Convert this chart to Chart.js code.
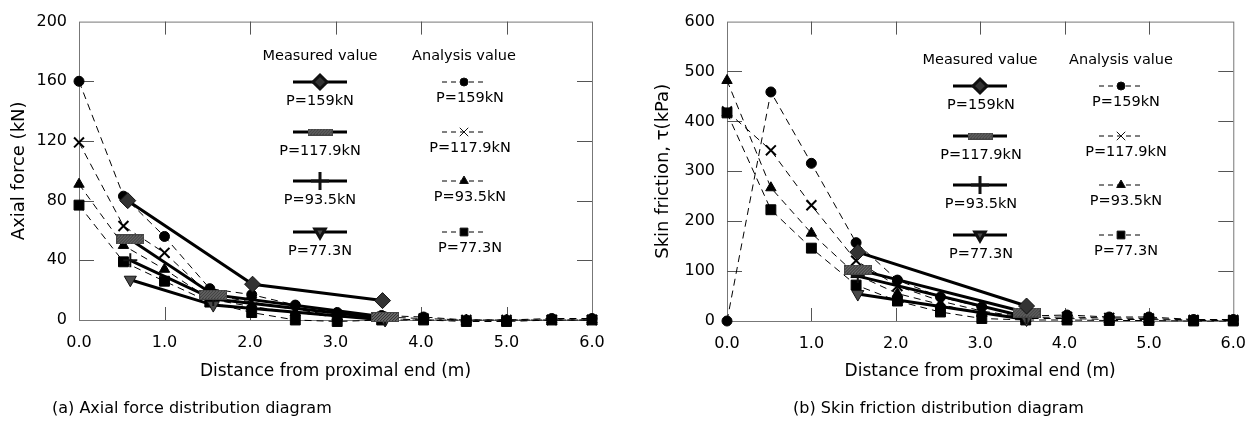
<!DOCTYPE html>
<html>
<head>
<meta charset="utf-8">
<script src="https://cdn.jsdelivr.net/npm/chart.js@4.4.1/dist/chart.umd.min.js"></script>
<style>
  body { margin: 0; background: #fff; }
  #wrap { position: relative; width: 1259px; height: 427px; overflow: hidden; }
  #c1 { position: absolute; left: 0; top: 0; }
  #c2 { position: absolute; left: 620px; top: 0; }
  .cap { position: absolute; top: 398px; font: 16px 'DejaVu Sans', sans-serif; color: #000; white-space: nowrap; }
</style>
</head>
<body>
<div id="wrap">
  <canvas id="c1" width="620" height="427"></canvas>
  <canvas id="c2" width="639" height="427"></canvas>
  <div class="cap" style="left:52px">(a) Axial force distribution diagram</div>
  <div class="cap" style="left:793px">(b) Skin friction distribution diagram</div>
</div>
<script>
// distance from proximal end (m)
var anaDist = [0, 0.52, 1.0, 1.53, 2.02, 2.53, 3.02, 3.54, 4.03, 4.53, 5.0, 5.53, 6.0];
var measDistA159 = [0.57, 2.03, 3.55];
var measDistA = [0.6, 1.57, 3.58];
var measDistB = [1.55, 3.55];

var loadLabels = ['P=159kN', 'P=117.9kN', 'P=93.5kN', 'P=77.3N'];

// (a) axial force, kN
var axialMeas159 = [80, 24, 13];
var axialMeas1179 = [54, 17, 2];
var axialMeas935 = [40, 14, 1];
var axialMeas773 = [27, 10, 0];
var axialAna159 = [160, 83, 56, 21, 17, 10, 5, 3, 2, 0, 0, 1, 1];
var axialAna1179 = [119, 63, 45, 17, 12, 7, 3, 2, 1, 0, 0, 0, 0];
var axialAna935 = [91, 50, 34, 14, 9, 5, 2, 1, 0, 0, 0, 0, 0];
var axialAna773 = [77, 39, 26, 12, 5, 0, -1, 0, 0, -1, -1, 0, 0];

// (b) skin friction, kPa
var fricMeas159 = [138, 30];
var fricMeas1179 = [103, 17];
var fricMeas935 = [90, 8];
var fricMeas773 = [54, 3];
var fricAna159 = [0, 459, 316, 157, 82, 48, 28, 10, 12, 8, 8, 3, 3];
var fricAna1179 = [420, 342, 232, 121, 70, 40, 20, 7, 8, 6, 5, 2, 2];
var fricAna935 = [482, 267, 176, 93, 55, 33, 15, 5, 5, 3, 3, 1, 1];
var fricAna773 = [417, 223, 146, 72, 40, 18, 5, 2, 2, 1, 1, 0, 0];

Chart.defaults.font.family = "'DejaVu Sans', sans-serif";
Chart.defaults.color = '#000';

// hatched bar marker for P=117.9kN
function hatchMarker(w, h) {
  var c = document.createElement('canvas');
  c.width = w; c.height = h;
  var g = c.getContext('2d');
  g.fillStyle = '#6a6a6a';
  g.fillRect(0, 0, w, h);
  g.strokeStyle = '#2a2a2a';
  g.lineWidth = 1;
  for (var i = -h; i < w; i += 3) {
    g.beginPath(); g.moveTo(i, h); g.lineTo(i + h, 0); g.stroke();
  }
  g.strokeStyle = '#444';
  g.strokeRect(0.5, 0.5, w - 1, h - 1);
  return c;
}
var hatchBig = hatchMarker(28, 10);
var hatchSmall = hatchMarker(25, 7);

function pts(xs, ys) {
  return ys.map(function (v, i) { return {x: xs[i], y: v}; });
}

var measStyles = [
  {pointStyle: 'rectRot', radius: 8, fill: '#333', rotation: 0, lr: 7},
  {pointStyle: hatchBig, radius: 8, fill: '#666', rotation: 0, lr: 6, legImg: hatchSmall},
  {pointStyle: 'cross', radius: 7, fill: '#000', rotation: 0, lr: 9},
  {pointStyle: 'triangle', radius: 7, fill: '#4a4a4a', rotation: 180, lr: 6}
];
var anaStyles = [
  {pointStyle: 'circle', radius: 5, lr: 4},
  {pointStyle: 'crossRot', radius: 7, lr: 6},
  {pointStyle: 'triangle', radius: 6, lr: 5},
  {pointStyle: 'rect', radius: 7, lr: 5.5}
];

function measSet(label, data, st) {
  return {
    label: label, data: data, showLine: true, clip: false,
    borderColor: '#000', borderWidth: 3,
    pointStyle: st.pointStyle, pointRadius: st.radius, pointRotation: st.rotation,
    pointBackgroundColor: st.fill, pointBorderColor: '#111', pointBorderWidth: st.pointStyle === 'cross' ? 2 : 1,
    legendStyle: st
  };
}
function anaSet(label, data, st) {
  return {
    label: label, data: data, showLine: true, clip: false,
    borderColor: '#000', borderWidth: 1, borderDash: [7, 5],
    pointStyle: st.pointStyle, pointRadius: st.radius,
    pointBackgroundColor: '#000', pointBorderColor: '#000', pointBorderWidth: st.pointStyle === 'crossRot' ? 2 : 1,
    legendStyle: st
  };
}

var framePlugin = {
  id: 'frame',
  beforeDatasetsDraw: function (chart) {
    var ctx = chart.ctx, a = chart.chartArea;
    var xs = chart.scales.x, ys = chart.scales.y;
    ctx.save();
    ctx.strokeStyle = '#777';
    ctx.lineWidth = 1;
    ctx.strokeRect(a.left + 0.5, a.top + 0.5, a.right - a.left, a.bottom - a.top);
    ctx.strokeStyle = '#555';
    ctx.beginPath();
    xs.ticks.forEach(function (t) {
      if (t.value <= xs.min || t.value >= xs.max) return;
      var px = Math.round(xs.getPixelForValue(t.value)) + 0.5;
      ctx.moveTo(px, a.bottom); ctx.lineTo(px, a.bottom - 13);
      ctx.moveTo(px, a.top); ctx.lineTo(px, a.top + 13);
    });
    ys.ticks.forEach(function (t) {
      if (t.value <= ys.min || t.value >= ys.max) return;
      var py = Math.round(ys.getPixelForValue(t.value)) + 0.5;
      ctx.moveTo(a.left, py); ctx.lineTo(a.left + 15, py);
      ctx.moveTo(a.right, py); ctx.lineTo(a.right - 15, py);
    });
    ctx.stroke();
    ctx.restore();
  }
};

var boxLegend = {
  id: 'boxLegend',
  afterDatasetsDraw: function (chart, args, o) {
    var ctx = chart.ctx;
    ctx.save();
    ctx.font = '14.5px "DejaVu Sans", sans-serif';
    ctx.fillStyle = '#000';
    ctx.textAlign = 'center';
    ctx.textBaseline = 'middle';
    ctx.fillText('Measured value', o.measX, o.headY);
    ctx.fillText('Analysis value', o.anaX, o.headY);
    chart.data.datasets.forEach(function (ds, i) {
      var measured = i < 4;
      var row = i % 4;
      var cx = measured ? o.measX : o.anaX;
      var y = o.rows[row];
      var half = measured ? 27 : 22;
      var st = ds.legendStyle;
      ctx.strokeStyle = '#000';
      ctx.lineWidth = measured ? 3 : 1;
      ctx.setLineDash(measured ? [] : [5, 4]);
      ctx.beginPath();
      ctx.moveTo(cx - half, y); ctx.lineTo(cx + half, y);
      ctx.stroke();
      ctx.setLineDash([]);
      ctx.fillStyle = measured ? st.fill : '#000';
      ctx.strokeStyle = '#111';
      Chart.helpers.drawPoint(ctx, {
        pointStyle: st.legImg || st.pointStyle,
        rotation: st.rotation || 0,
        radius: st.lr,
        borderWidth: (st.pointStyle === 'cross' || st.pointStyle === 'crossRot') ? 2 : 1
      }, cx, y);
      ctx.fillStyle = '#000';
      ctx.fillText(ds.label, o.textX[measured ? 0 : 1], y + (measured ? o.measDy : o.anaDy));
    });
    ctx.restore();
  }
};

function makeChart(id, sets, yMax, yStep, yTitle, pad, yW, xH, yTitlePad, leg) {
  return new Chart(document.getElementById(id), {
    type: 'scatter',
    data: {datasets: sets},
    options: {
      responsive: false,
      devicePixelRatio: 1,
      animation: false,
      layout: {padding: pad},
      plugins: {legend: {display: false}, tooltip: {enabled: false}, boxLegend: leg},
      scales: {
        x: {
          type: 'linear', min: 0, max: 6,
          grid: {display: false, drawTicks: false}, border: {display: false},
          ticks: {stepSize: 1, padding: 13, font: {size: 16}, maxRotation: 0,
            callback: function (v) { return v.toFixed(1); }},
          title: {display: true, text: 'Distance from proximal end (m)', font: {size: 17}, padding: {top: 4, bottom: 4}},
          afterFit: function (s) { s.height = xH; }
        },
        y: {
          type: 'linear', min: 0, max: yMax,
          grid: {display: false, drawTicks: false}, border: {display: false},
          ticks: {stepSize: yStep, padding: 12, font: {size: 16}},
          title: {display: true, text: yTitle, font: {size: 18}, padding: {top: yTitlePad, bottom: 0}},
          afterFit: function (s) { s.width = yW; }
        }
      }
    },
    plugins: [framePlugin, boxLegend]
  });
}

var setsA = [
  measSet(loadLabels[0], pts(measDistA159, axialMeas159), measStyles[0]),
  measSet(loadLabels[1], pts(measDistA, axialMeas1179), measStyles[1]),
  measSet(loadLabels[2], pts(measDistA, axialMeas935), measStyles[2]),
  measSet(loadLabels[3], pts(measDistA, axialMeas773), measStyles[3]),
  anaSet(loadLabels[0], pts(anaDist, axialAna159), anaStyles[0]),
  anaSet(loadLabels[1], pts(anaDist, axialAna1179), anaStyles[1]),
  anaSet(loadLabels[2], pts(anaDist, axialAna935), anaStyles[2]),
  anaSet(loadLabels[3], pts(anaDist, axialAna773), anaStyles[3])
];
var setsB = [
  measSet(loadLabels[0], pts(measDistB, fricMeas159), measStyles[0]),
  measSet(loadLabels[1], pts(measDistB, fricMeas1179), measStyles[1]),
  measSet(loadLabels[2], pts(measDistB, fricMeas935), measStyles[2]),
  measSet(loadLabels[3], pts(measDistB, fricMeas773), measStyles[3]),
  anaSet(loadLabels[0], pts(anaDist, fricAna159), anaStyles[0]),
  anaSet(loadLabels[1], pts(anaDist, fricAna1179), anaStyles[1]),
  anaSet(loadLabels[2], pts(anaDist, fricAna935), anaStyles[2]),
  anaSet(loadLabels[3], pts(anaDist, fricAna773), anaStyles[3])
];

makeChart('c1', setsA, 200, 40, 'Axial force (kN)',
  {left: 0, top: 11, right: 28, bottom: 41}, 79, 66, 9,
  {measX: 320, anaX: 464, headY: 56, rows: [82, 132, 181, 232], textX: [320, 470], measDy: 19, anaDy: 16});

makeChart('c2', setsB, 600, 100, 'Skin friction, \u03c4(kPa)',
  {left: 0, top: 15, right: 15, bottom: 41}, 107, 65, 33,
  {measX: 360, anaX: 501, headY: 60, rows: [86, 136, 185, 235], textX: [361, 506], measDy: 19, anaDy: 16});
</script>
</body>
</html>
